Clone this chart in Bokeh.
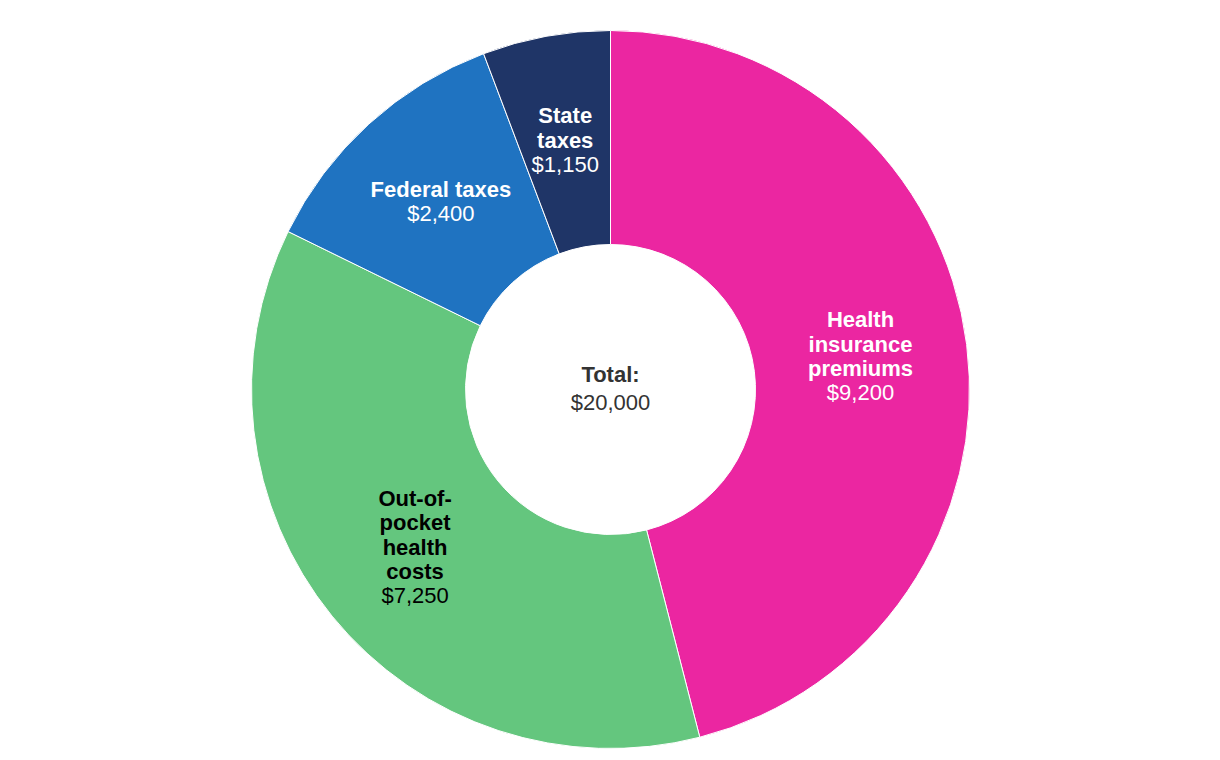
import math
from bokeh.plotting import figure
from bokeh.models import Range1d, ColumnDataSource
from bokeh.core.properties import value
from bokeh.embed import file_html
from bokeh.resources import INLINE

categories = ["Health insurance premiums", "Out-of-pocket health costs", "Federal taxes", "State taxes"]
label_lines = [["Health", "insurance", "premiums"], ["Out-of-", "pocket", "health", "costs"], ["Federal taxes"], ["State", "taxes"]]
amounts = [9200, 7250, 2400, 1150]
value_labels = ["$9,200", "$7,250", "$2,400", "$1,150"]
colors = ["#EB26A1", "#64C67E", "#1F73C1", "#1F3567"]
text_colors = ["white", "black", "white", "white"]
total_title = "Total:"
total_label = "$20,000"

W, H = 1220, 760
cx, cy = 610, H - 389
r_out, r_in = 359, 145
LH = 24.3
SHIFT = -1.5
FONT = "Liberation Sans"
FS = "22px"

p = figure(width=W, height=H, x_range=Range1d(0, W), y_range=Range1d(0, H),
           output_backend="svg", toolbar_location=None, min_border=0)
p.axis.visible = False
p.grid.visible = False
p.outline_line_color = None
p.background_fill_color = "white"

total = sum(amounts)
starts, ends = [], []
a = math.pi / 2
for v in amounts:
    span = v / total * 2 * math.pi
    starts.append(a - span)
    ends.append(a)
    a -= span

src = ColumnDataSource(dict(start=starts, end=ends, color=colors))
p.annular_wedge(x=cx, y=cy, inner_radius=r_in, outer_radius=r_out, start_angle="start",
                end_angle="end", fill_color="color", line_color="white", line_width=1, source=src)

bx, by, bt, bc, boff = [], [], [], [], []
nx, ny, nt, nc, noff = [], [], [], [], []
rm = (r_in + r_out) / 2
for i in range(len(amounts)):
    mid = (starts[i] + ends[i]) / 2
    x = cx + rm * math.cos(mid)
    y = cy + rm * math.sin(mid)
    lines = label_lines[i]
    n = len(lines) + 1
    for j, t in enumerate(lines):
        bx.append(x); by.append(y); bt.append(t); bc.append(text_colors[i])
        boff.append((j - (n - 1) / 2) * LH + SHIFT)
    nx.append(x); ny.append(y); nt.append(value_labels[i]); nc.append(text_colors[i])
    noff.append(((n - 1) - (n - 1) / 2) * LH + SHIFT)

p.text(x="x", y="y", text="t", y_offset="o", text_color="c",
       source=ColumnDataSource(dict(x=bx, y=by, t=bt, c=bc, o=boff)),
       text_font=value(FONT), text_font_size=FS, text_font_style="bold",
       text_align="center", text_baseline="middle")
p.text(x="x", y="y", text="t", y_offset="o", text_color="c",
       source=ColumnDataSource(dict(x=nx, y=ny, t=nt, c=nc, o=noff)),
       text_font=value(FONT), text_font_size=FS, text_font_style="normal",
       text_align="center", text_baseline="middle")

p.text(x=[cx], y=[cy], text=[total_title], y_offset=-14 - 1.5, text_color="#333333",
       text_font=value(FONT), text_font_size=FS, text_font_style="bold",
       text_align="center", text_baseline="middle")
p.text(x=[cx], y=[cy], text=[total_label], y_offset=14 - 1.5, text_color="#333333",
       text_font=value(FONT), text_font_size=FS, text_font_style="normal",
       text_align="center", text_baseline="middle")

open("out.html", "w").write(file_html(p, INLINE))
